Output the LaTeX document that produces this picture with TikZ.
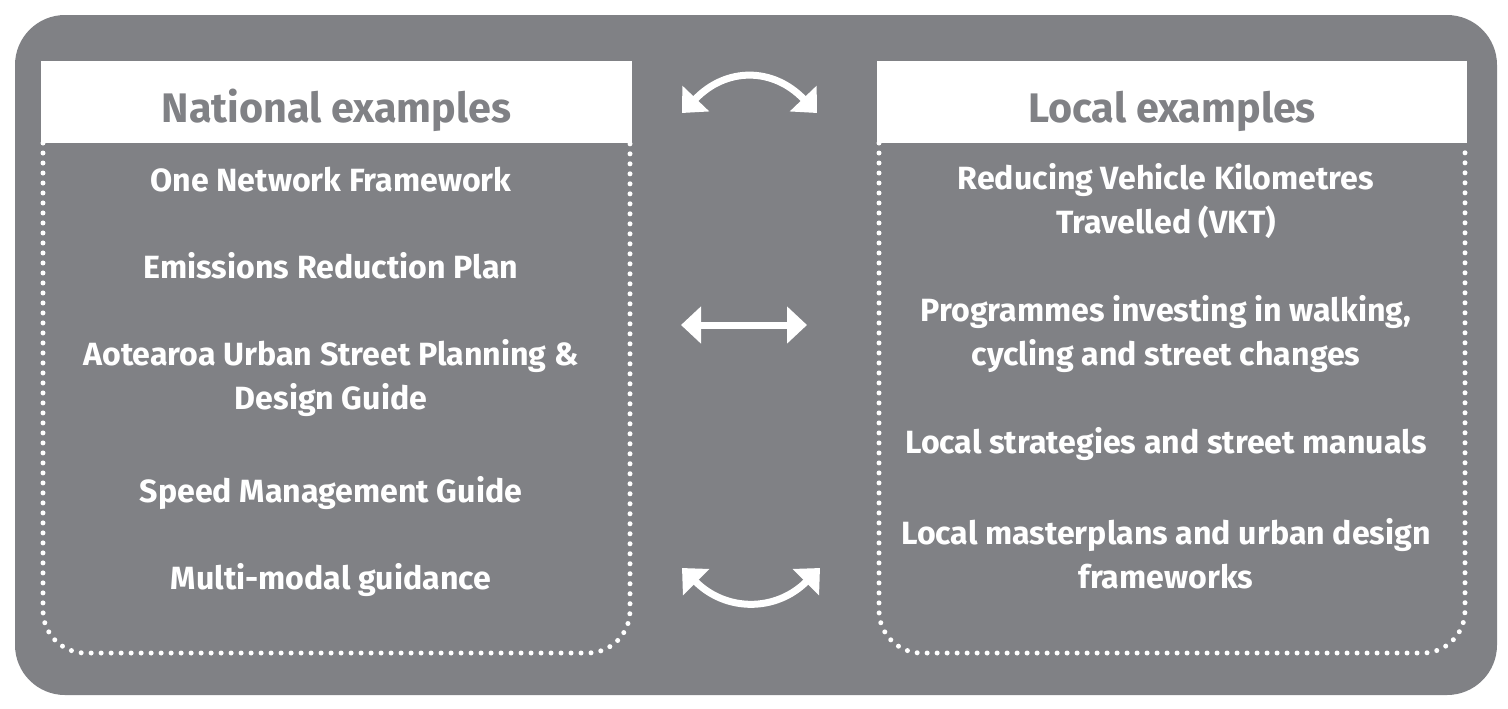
\documentclass[tikz,border=0pt]{standalone}
\usepackage{fontspec}
\setmainfont{Fira Sans}
\usetikzlibrary{arrows.meta}
\definecolor{panelgray}{RGB}{128,129,133}

\tikzset{
  headbox/.style={fill=white, draw=none, minimum width=11.82cm, minimum height=1.64cm, inner sep=0pt},
  headtext/.style={text=panelgray, font=\fontsize{23.5}{26}\selectfont\bfseries, anchor=base},
  itemtext/.style={text=white, font=\fontsize{18.3}{24.5}\selectfont\bfseries, align=center, anchor=base},
  dotline/.style={draw=white, line width=0.1cm, line cap=round, dash pattern=on 0pt off 0.2cm, rounded corners=0.85cm},
  twoway/.style={draw=white, line width=0.14cm, {Triangle[width=0.72cm,length=0.4cm]}-{Triangle[width=0.72cm,length=0.4cm]}}
}

\begin{document}
\begin{tikzpicture}[x=0.02cm,y=-0.02cm]
             \useasboundingbox (0,0) rectangle (1508,708);
             \fill[panelgray, rounded corners=1cm] (15,15) rectangle (1497,695);

             % dotted outlines of the two columns
             \draw[dotline] (43,143) -- (43,653) -- (630,653) -- (630,143);
             \draw[dotline] (879,143) -- (879,653) -- (1465,653) -- (1465,143);

             % national column (multi-line nodes sit on their last baseline)
             \node[headbox] (natHead) at (336.5,102) {};
             \node[headtext] (natTitle) at (336.5,122) {National examples};
             \node[itemtext] (natA) at (331,191) {One Network Framework};
             \node[itemtext] (natB) at (331,278) {Emissions Reduction Plan};
             \node[itemtext] (natC) at (331,409) {Aotearoa Urban Street Planning \&\\Design Guide};
             \node[itemtext] (natD) at (331,502) {Speed Management Guide};
             \node[itemtext] (natE) at (331,589) {Multi-modal guidance};

             % local column
             \node[headbox] (locHead) at (1172,102) {};
             \node[headtext] (locTitle) at (1172,122) {Local examples};
             \node[itemtext] (locA) at (1166,233) {Reducing Vehicle Kilometres\\Travelled (VKT)};
             \node[itemtext] (locB) at (1166,365) {Programmes investing in walking,\\cycling and street changes};
             \node[itemtext] (locC) at (1166,453) {Local strategies and street manuals};
             \node[itemtext] (locD) at (1166,588) {Local masterplans and urban design\\frameworks};

             % arrows between the columns
             \coordinate (topL) at (682,113);
             \coordinate (topR) at (817,113);
             \draw[twoway] (topL) .. controls (726,67) and (773,67) .. (topR);
             \coordinate (midL) at (681,325);
             \coordinate (midR) at (807,325);
             \draw[twoway] (midL) -- (midR);
             \coordinate (botL) at (682,568);
             \coordinate (botR) at (820,568);
             \draw[twoway] (botL) .. controls (726,612) and (776,612) .. (botR);
             \end{tikzpicture}
\end{document}
